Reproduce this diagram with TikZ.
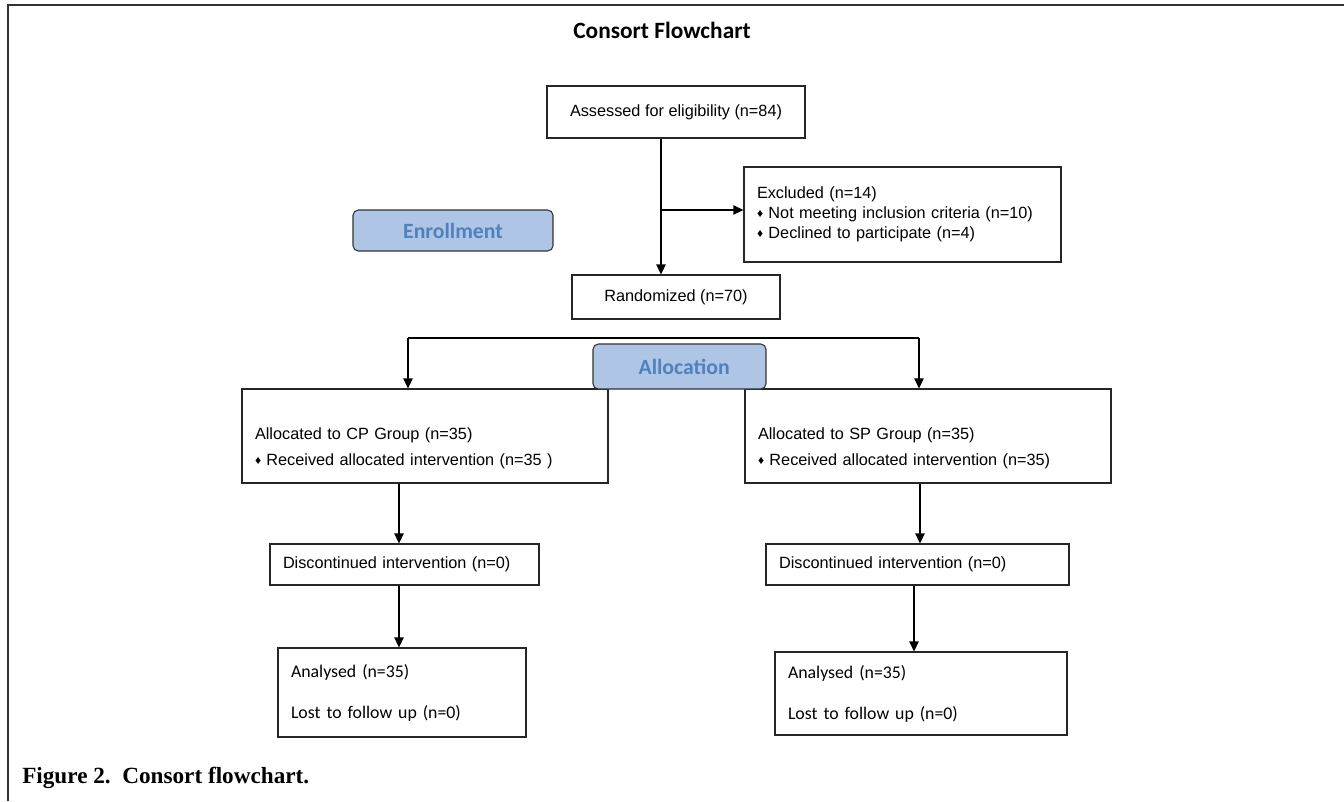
\documentclass[tikz,border=0pt]{standalone}
\usepackage{fontspec}
\setmainfont{Liberation Sans}
\newfontfamily\calibri{Carlito}
\newfontfamily\capserif{Liberation Serif}
\usepackage{tikz}
\usetikzlibrary{positioning,arrows.meta}
\definecolor{stageblue}{HTML}{AFC5E6}
\definecolor{stagetext}{HTML}{4F81BD}
\newcommand{\dmd}{{\fontsize{9}{9}\selectfont\raisebox{0.6pt}{♦}}\hspace{4pt}}

\begin{document}
\begin{tikzpicture}[
    x=0.75pt, y=-0.75pt,
    every node/.style={inner sep=0pt},
    box/.style={draw=black!85, line width=0.8pt, fill=white, font=\fontsize{12.2}{15}\selectfont},
    lbox/.style={box, align=left, inner xsep=9.75pt},
    anbox/.style={lbox, font=\calibri\fontsize{13.35}{15.4}\selectfont},
    stage/.style={draw=black!80, line width=0.8pt, fill=stageblue, rounded corners=4pt, text=stagetext, font=\calibri\bfseries\fontsize{16.3}{18}\selectfont},
    arr/.style={line width=0.8pt, -{Triangle[length=7.5pt,width=7pt]}}
]
\useasboundingbox (0,0) rectangle (1344,801);
\draw[line width=1.5pt, black!80] (8,801) -- (8,5) -- (1344,5);

\node[font=\calibri\bfseries\fontsize{17.5}{20}\selectfont] (title) at (662,30) {Consort Flowchart};
\node[box, minimum width=193.5pt, minimum height=39pt] (assess) at (676,112) {Assessed for eligibility (n=84)};
\node[lbox, text width=218.25pt, minimum height=71.25pt] (excl) at (902.5,214.5) {Excluded (n=14)\\ \dmd Not meeting inclusion criteria (n=10)\\ \dmd Declined to participate (n=4)};
\node[stage, minimum width=150pt, minimum height=30.75pt] (enrol) at (453,230.5) {Enrollment};
\node[box, minimum width=156pt, minimum height=33pt] (rand) at (676,297) {Randomized (n=70)};

\node[lbox, text width=255pt, minimum height=70.5pt] (cp) at (425,436) {\mbox{}\\[12pt] Allocated to CP Group (n=35)\\[4.5pt] \dmd Received allocated intervention (n=35 )};
\node[lbox, text width=255pt, minimum height=70.5pt] (sp) at (928,436) {\mbox{}\\[12pt] Allocated to SP Group (n=35)\\[4.5pt] \dmd Received allocated intervention (n=35)};
\node[stage, minimum width=129.75pt, minimum height=33.75pt] (alloc) at (679.5,366.5) {\hspace*{7pt}Allocation};

\node[lbox, text width=182.25pt, minimum height=30.75pt] (disccp) at (404.5,564.5) {Discontinued intervention (n=0)};
\node[lbox, text width=207.75pt, minimum height=30.75pt] (discsp) at (917.5,564.5) {Discontinued intervention (n=0)};
\node[anbox, text width=166.5pt, minimum height=66.75pt] (ancp) at (402,692.5) {Analysed (n=35)\\[15.4pt] Lost to follow up (n=0)};
\node[anbox, text width=199.5pt, minimum height=62.25pt] (ansp) at (921,693.5) {Analysed (n=35)\\[15.4pt] Lost to follow up (n=0)};

\node[anchor=base west, font=\capserif\bfseries\fontsize{17.4}{20}\selectfont] (cap) at (22,783) {Figure 2.\ \ Consort flowchart.};

\coordinate (ex) at (661,210);
\coordinate (lft) at (408,338);
\coordinate (rgt) at (919,338);
\coordinate (mk1) at (619,338);
\coordinate (mk2) at (709,338);
\coordinate (lc) at (399,0);
\coordinate (rc) at (920,0);
\coordinate (rc2) at (914,0);

\draw[arr] (assess.south -| ex) -- (rand.north -| ex);
\draw[arr] (ex) -- (excl.west |- ex);
\draw[line width=0.8pt] (lft) -- (rgt);
\draw[line width=1.3pt] (mk1) -- (mk2);
\draw[arr] (lft) -- (cp.north -| lft);
\draw[arr] (rgt) -- (sp.north -| rgt);
\draw[arr] (cp.south -| lc) -- (disccp.north -| lc);
\draw[arr] (disccp.south -| lc) -- (ancp.north -| lc);
\draw[arr] (sp.south -| rc) -- (discsp.north -| rc);
\draw[arr] (discsp.south -| rc2) -- (ansp.north -| rc2);
\end{tikzpicture}
\end{document}
